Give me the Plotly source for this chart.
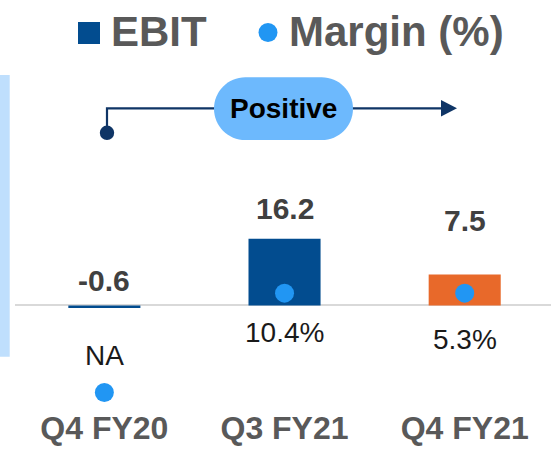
import plotly.graph_objects as go

# ---- data ----
categories = ["Q4 FY20", "Q3 FY21", "Q4 FY21"]
ebit = [-0.6, 16.2, 7.5]
ebit_labels = ["-0.6", "16.2", "7.5"]
margin_pct = [None, 10.4, 5.3]
margin_labels = ["NA", "10.4%", "5.3%"]
bar_colors = ["#024c8f", "#024c8f", "#e8692a"]

# ---- layout constants ----
W, H = 551, 455
L, R, T, B = 15, 0, 0, 55
PW, PH = W - L - R, H - T - B
DOT_COLOR = "#2196f3"
FONT = "Liberation Sans, Arial, sans-serif"

def px(x):
    return (x - L) / PW

def py(y):
    return (T + PH - y) / PH

fig = go.Figure()
fig.add_trace(go.Bar(
    x=categories, y=ebit, width=0.4,
    marker=dict(color=bar_colors, line=dict(width=0)),
    hoverinfo="skip", showlegend=False,
))
# margin dots (placed at fixed decorative levels, as in the source slide)
margin_dot_level = [-21.1, 3.0, 3.0]
fig.add_trace(go.Scatter(
    x=categories, y=margin_dot_level, mode="markers", cliponaxis=False,
    marker=dict(size=19, color=DOT_COLOR, line=dict(width=0)),
    hoverinfo="skip", showlegend=False,
))

annotations = []
# EBIT value labels
ebit_shift = [25, 30, 54]
for c, v, t, s in zip(categories, ebit, ebit_labels, ebit_shift):
    annotations.append(dict(x=c, y=max(v, 0), xref="x", yref="y", text=f"<b>{t}</b>",
                            showarrow=False, yanchor="middle", yshift=s,
                            font=dict(family=FONT, size=30, color="#404040")))
# margin labels
margin_shift = [-50, -27, -34]
for c, t, s in zip(categories, margin_labels, margin_shift):
    annotations.append(dict(x=c, y=0, xref="x", yref="y", text=t,
                            showarrow=False, yanchor="middle", yshift=s,
                            font=dict(family=FONT, size=28, color="#1a1a1a")))
# legend texts
annotations.append(dict(x=px(109), y=py(31), xref="paper", yref="paper", text="<b>EBIT</b>",
                        showarrow=False, xanchor="left", yanchor="middle",
                        font=dict(family=FONT, size=42, color="#595959")))
annotations.append(dict(x=px(287), y=py(31), xref="paper", yref="paper", text="<b>Margin (%)</b>",
                        showarrow=False, xanchor="left", yanchor="middle",
                        font=dict(family=FONT, size=42, color="#595959")))
# pill text
annotations.append(dict(x=px(283.5), y=py(109), xref="paper", yref="paper", text="<b>Positive</b>",
                        showarrow=False, xanchor="center", yanchor="middle",
                        font=dict(family=FONT, size=28, color="#000000")))

def pill_path(x0, x1, y0, y1):
    r = (y1 - y0) / 2
    k = 0.5523 * r
    xa, xb = x0 + r, x1 - r
    ym = (y0 + y1) / 2
    pts = [
        f"M{px(xa)},{py(y0)}", f"L{px(xb)},{py(y0)}",
        f"C{px(xb + k)},{py(y0)} {px(x1)},{py(ym - k)} {px(x1)},{py(ym)}",
        f"C{px(x1)},{py(ym + k)} {px(xb + k)},{py(y1)} {px(xb)},{py(y1)}",
        f"L{px(xa)},{py(y1)}",
        f"C{px(xa - k)},{py(y1)} {px(x0)},{py(ym + k)} {px(x0)},{py(ym)}",
        f"C{px(x0)},{py(ym - k)} {px(xa - k)},{py(y0)} {px(xa)},{py(y0)}",
        "Z",
    ]
    return " ".join(pts)

NAVY = "#0f3566"
shapes = [
    # left accent bar
    dict(type="rect", xref="paper", yref="paper", x0=px(0), x1=px(9.7), y0=py(356.7), y1=py(75),
         fillcolor="#bfdffd", line=dict(width=0), layer="above"),
    # legend square and dot
    dict(type="rect", xref="paper", yref="paper", x0=px(78), x1=px(100), y0=py(44), y1=py(22),
         fillcolor="#024c8f", line=dict(width=0)),
    dict(type="circle", xref="paper", yref="paper", x0=px(258.5), x1=px(277.5), y0=py(42), y1=py(23),
         fillcolor=DOT_COLOR, line=dict(width=0)),
    # arrow line
    dict(type="path", xref="paper", yref="paper",
         path=f"M{px(107)},{py(132)} L{px(107)},{py(108.3)} L{px(443)},{py(108.3)}",
         line=dict(color=NAVY, width=2.2)),
    dict(type="path", xref="paper", yref="paper",
         path=f"M{px(441)},{py(100)} L{px(457)},{py(108.3)} L{px(441)},{py(116.6)} Z",
         fillcolor=NAVY, line=dict(width=0)),
    dict(type="circle", xref="paper", yref="paper", x0=px(99.8), x1=px(114.2), y0=py(140), y1=py(125.6),
         fillcolor=NAVY, line=dict(width=0)),
    # pill
    dict(type="path", xref="paper", yref="paper", path=pill_path(214, 353, 77.3, 140),
         fillcolor="#6db9fd", line=dict(width=0)),
]

fig.update_layout(
    width=W, height=H,
    margin=dict(l=L, r=R, t=T, b=B, pad=0),
    paper_bgcolor="white", plot_bgcolor="white",
    showlegend=False,
    xaxis=dict(range=[-0.496, 2.479], showgrid=False, zeroline=False, showline=False,
               ticks="", ticklabelstandoff=6,
               tickfont=dict(family=FONT, size=32, color="#595959", weight="bold"),
               fixedrange=True),
    yaxis=dict(range=[-22.94, 74.15], showgrid=False, zeroline=True, zerolinecolor="#d9d9d9",
               zerolinewidth=1.5, showticklabels=False, ticks="", showline=False, fixedrange=True),
    annotations=annotations,
    shapes=shapes,
)

fig.write_html(
    "out.html",
    config={"displayModeBar": False},
    post_script="document.body.style.margin='0';document.body.style.overflow='hidden';",
)
